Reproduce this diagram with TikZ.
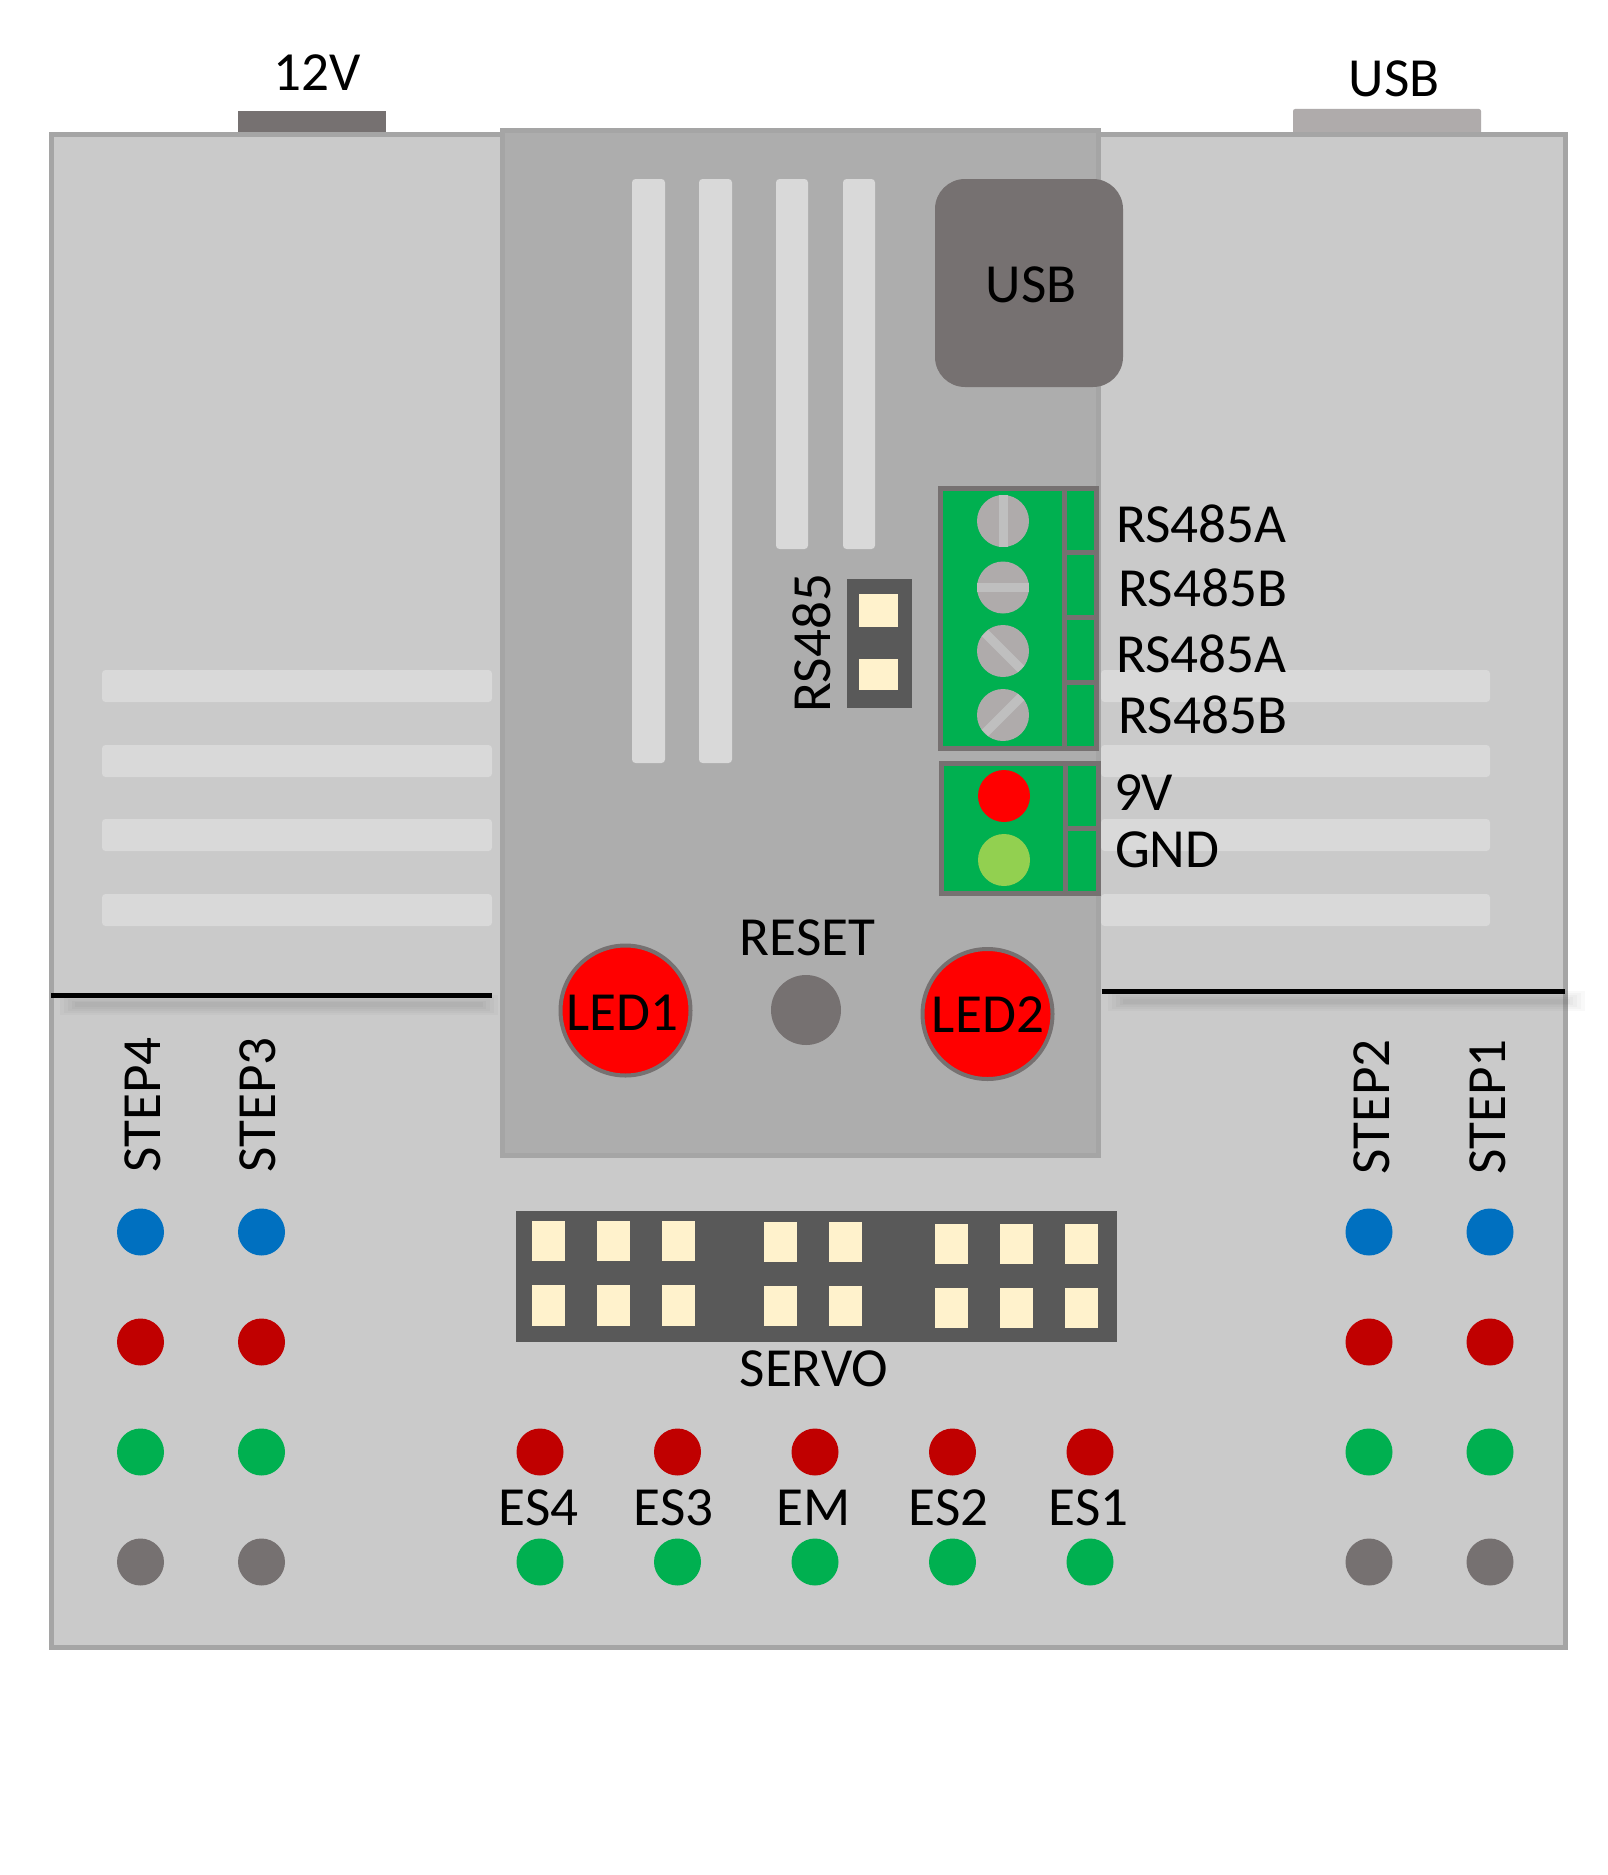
\documentclass[tikz,border=0pt]{standalone}
\usepackage{fontspec}
\setmainfont{Carlito}
\definecolor{boardfill}{HTML}{CACACA}
\definecolor{boardline}{HTML}{A5A5A5}
\definecolor{panelfill}{HTML}{ADADAD}
\definecolor{stripe}{HTML}{D9D9D9}
\definecolor{darkgrey}{HTML}{767171}
\definecolor{midgrey}{HTML}{AFABAB}
\definecolor{slotgrey}{HTML}{BFBFBF}
\definecolor{header}{HTML}{595959}
\definecolor{pinfill}{HTML}{FFF2CC}
\definecolor{termgreen}{HTML}{00B050}
\definecolor{lightgreen}{HTML}{92D050}
\definecolor{dotblue}{HTML}{0070C0}
\definecolor{dotred}{HTML}{C00000}
\tikzset{
  x=0.05cm,y=-0.05cm,
  lbl/.style={inner sep=0pt,outer sep=0pt,font=\fontsize{78.5}{90}\selectfont,text=black},
  vlbl/.style={lbl,anchor=base,rotate=90},
  stripebar/.style={fill=stripe,rounded corners=5},
  pin/.style={fill=pinfill},
  termbox/.style={fill=termgreen,draw=darkgrey,line width=5*0.05cm},
  termline/.style={draw=darkgrey,line width=5*0.05cm},
  slot/.style={draw=slotgrey,line width=9*0.05cm},
  dot/.style={circle,minimum size=47*0.05cm,inner sep=0pt,outer sep=0pt},
  screw/.style={circle,minimum size=52*0.05cm,inner sep=0pt,outer sep=0pt},
  led/.style={circle,fill=red,draw=darkgrey,line width=4*0.05cm,minimum size=130*0.05cm,inner sep=0pt},
  blackline/.style={draw=black,line width=5*0.05cm},
}
\begin{document}
\begin{tikzpicture}
\useasboundingbox (0,0) rectangle (1607,1875);
\fill[white] (0,0) rectangle (1607,1875);
% connectors on the top edge
\fill[darkgrey] (238,111) rectangle (386,134);
\fill[midgrey,rounded corners=3] (1293,109) rectangle (1481,136);
% board
\draw[fill=boardfill,draw=boardline,line width=5*0.05cm] (51.5,134.5) rectangle (1565.5,1647.5);
% side stripes
\foreach \yy in {670,745,819,894}{
  \fill[stripebar] (102,\yy) rectangle (492,\yy+32);
  \fill[stripebar] (1101,\yy) rectangle (1490,\yy+32);
}
% centre panel
\draw[fill=panelfill,draw=boardline,line width=5*0.05cm] (502.5,130.5) rectangle (1098.5,1155);
% vertical stripes
\fill[stripebar] (632,179) rectangle (665,763);
\fill[stripebar] (699,179) rectangle (732,763);
\fill[stripebar] (776,179) rectangle (808,549);
\fill[stripebar] (843,179) rectangle (875,549);
% USB block
\fill[darkgrey,rounded corners=30*0.05cm] (935,179) rectangle (1123,387);
% shadows of the lines
\foreach \w in {20,16,12,8,5}{
  \draw[black,opacity=0.022,line width=\w*0.05cm] (60+20-\w,1004.5) -- (498-20+\w,1004.5);
  \draw[black,opacity=0.022,line width=\w*0.05cm] (1108+20-\w,1001) -- (1585-20+\w,1001);
}
% section lines
\draw[blackline] (51,995) -- (491.5,995);
\draw[blackline] (1101.5,991.5) -- (1565,991.5);
% four-way terminal
\draw[termbox] (940.5,488.5) rectangle (1096.5,748.5);
\draw[termline] (1064.5,488.5) -- (1064.5,748.5);
\foreach \yy in {552.5,617.5,682.5}{\draw[termline] (1064.5,\yy) -- (1096.5,\yy);}
\node[screw,fill=midgrey] (s1) at (1003,521) {};
\node[screw,fill=midgrey] (s2) at (1003,587.5) {};
\node[screw,fill=midgrey] (s3) at (1003,651) {};
\node[screw,fill=midgrey] (s4) at (1003,715) {};
\draw[slot] (1003,495) -- (1003,547);
\draw[slot] (977,587.5) -- (1029,587.5);
\draw[slot] (985,633) -- (1021,669);
\draw[slot] (985,733) -- (1021,697);
% two-way terminal
\draw[termbox] (941.5,763.5) rectangle (1098.5,893);
\draw[termline] (1065.5,763.5) -- (1065.5,893);
\draw[termline] (1065.5,828.5) -- (1098.5,828.5);
\node[screw,fill=red] (p1) at (1004,796) {};
\node[screw,fill=lightgreen] (p2) at (1004,860) {};
% RS485 jumper
\fill[header] (847,578.5) rectangle (912,708);
\fill[pin] (859,594) rectangle (898,627);
\fill[pin] (859,659) rectangle (898,690);
% LEDs and reset
\node[led] (led1) at (625.5,1010.5) {};
\node[led] (led2) at (987.5,1014) {};
\node[dot,fill=darkgrey,minimum size=70*0.05cm] (rst) at (806,1010) {};
% servo header
\fill[header] (516,1211) rectangle (1117,1342);
\foreach \xx in {532,597,662}{
  \fill[pin] (\xx,1221) rectangle (\xx+33,1261);
  \fill[pin] (\xx,1285) rectangle (\xx+33,1326);
}
\foreach \xx in {764,829}{
  \fill[pin] (\xx,1222) rectangle (\xx+33,1262);
  \fill[pin] (\xx,1286) rectangle (\xx+33,1326);
}
\foreach \xx in {935,1000,1065}{
  \fill[pin] (\xx,1224) rectangle (\xx+33,1264);
  \fill[pin] (\xx,1288) rectangle (\xx+33,1328);
}
% step dots
\foreach \xx/\nn in {140.5/a,261.5/b,1369/c,1490/d}{
  \node[dot,fill=dotblue] (blue\nn) at (\xx,1232) {};
  \node[dot,fill=dotred] (red\nn) at (\xx,1342) {};
  \node[dot,fill=termgreen] (green\nn) at (\xx,1452) {};
  \node[dot,fill=darkgrey] (grey\nn) at (\xx,1562) {};
}
% endstop dots
\foreach \xx/\nn in {540/e,677.5/f,815/g,952.5/h,1090/i}{
  \node[dot,fill=dotred] (red\nn) at (\xx,1452) {};
  \node[dot,fill=termgreen] (green\nn) at (\xx,1562) {};
}
% labels
\node[lbl,anchor=base] (t12v) at (317.5,91) {12V};
\node[lbl,anchor=base] (tusba) at (1394,97) {USB};
\node[lbl,anchor=base] (tusbb) at (1031,302) {USB};
\node[lbl,anchor=base west] (ta1) at (1116,542) {RS485A};
\node[lbl,anchor=base west] (tb1) at (1118.5,606) {RS485B};
\node[lbl,anchor=base west] (ta2) at (1116,672) {RS485A};
\node[lbl,anchor=base west] (tb2) at (1118.5,733) {RS485B};
\node[lbl,anchor=base west] (t9v) at (1114,810) {9V};
\node[lbl,anchor=base west] (tgnd) at (1115,867) {GND};
\node[vlbl] (trs) at (830,643) {RS485};
\node[lbl,anchor=base] (trst) at (807.5,955.5) {RESET};
\node[lbl,anchor=base] (tl1) at (622.5,1030) {LED1};
\node[lbl,anchor=base] (tl2) at (988,1032) {LED2};
\node[vlbl] (ts4) at (160,1105) {STEP4};
\node[vlbl] (ts3) at (275,1105) {STEP3};
\node[vlbl] (ts2) at (1389,1107) {STEP2};
\node[vlbl] (ts1) at (1505,1107) {STEP1};
\node[lbl,anchor=base] (tservo) at (814,1386.5) {SERVO};
\node[lbl,anchor=base] (tes4) at (538.5,1525.5) {ES4};
\node[lbl,anchor=base] (tes3) at (673.5,1525.5) {ES3};
\node[lbl,anchor=base] (tem) at (813.5,1525.5) {EM};
\node[lbl,anchor=base] (tes2) at (948.5,1525.5) {ES2};
\node[lbl,anchor=base] (tes1) at (1088.5,1525.5) {ES1};
\end{tikzpicture}
\end{document}
